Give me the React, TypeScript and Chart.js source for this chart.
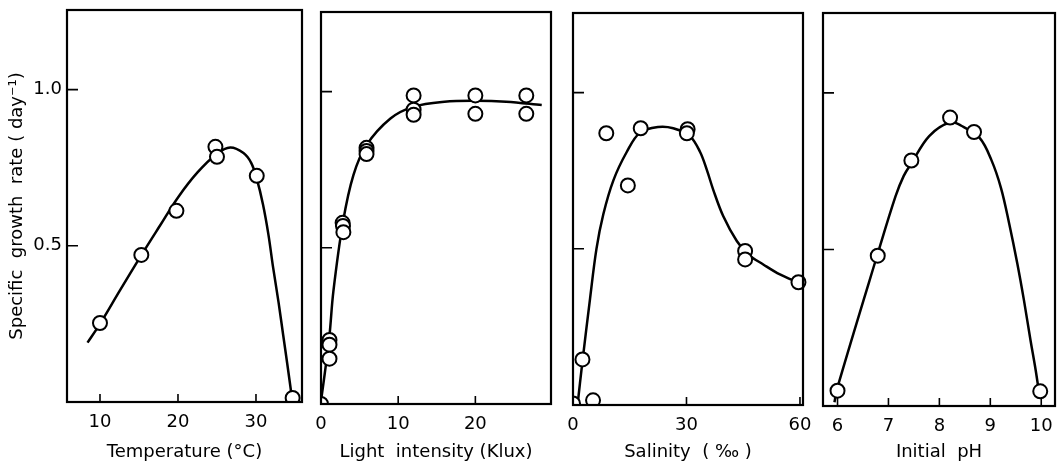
import React, { useEffect, useRef } from 'react';
import { Chart, registerables } from 'chart.js';

Chart.register(...registerables);

// ---------- data ----------
const yTicks = [0.5, 1.0];
const yTitle = 'Specific  growth  rate ( day⁻¹)';

// Temperature
const tempTicks = [10, 20, 30];
const tempX = [10, 15.3, 19.8, 24.8, 25, 30.1, 34.7];
const tempY = [0.253, 0.471, 0.612, 0.817, 0.785, 0.724, 0.013];
const tempFitX = [8.4, 10, 12.5, 15.3, 17.7, 20, 22.5, 25, 26.7, 28.4, 29.4, 30.1, 30.9, 31.6, 32.2, 32.9, 33.5, 34.0, 34.6];
const tempFitY = [0.19, 0.25, 0.355, 0.47, 0.565, 0.655, 0.735, 0.795, 0.815, 0.797, 0.765, 0.715, 0.632, 0.535, 0.43, 0.318, 0.212, 0.124, 0.015];

// Light intensity
const lightTicks = [0, 10, 20];
const lightX = [0, 1.1, 1.1, 1.1, 2.8, 2.85, 2.9, 5.9, 5.9, 5.9, 12, 12, 12, 20, 20, 26.6, 26.6];
const lightY = [0, 0.205, 0.19, 0.145, 0.58, 0.57, 0.55, 0.82, 0.81, 0.8, 0.988, 0.942, 0.926, 0.988, 0.929, 0.988, 0.929];
const lightFitX = [0, 0.5, 1.1, 1.6, 2.85, 4.2, 5.9, 9, 12, 16, 20, 24, 28.6];
const lightFitY = [0.01, 0.1, 0.22, 0.36, 0.583, 0.733, 0.829, 0.914, 0.952, 0.968, 0.971, 0.968, 0.957];

// Salinity
const salTicks = [0, 30, 60];
const salX = [0, 2.5, 5.3, 8.8, 14.5, 17.9, 30.3, 30.1, 45.5, 45.5, 59.6];
const salY = [0.005, 0.146, 0.015, 0.87, 0.703, 0.886, 0.883, 0.87, 0.493, 0.466, 0.393];
const salFitX = [1.2, 2.5, 4.5, 6.2, 8, 10.7, 14.2, 17.7, 22.5, 26.5, 30.9, 33.6, 35.4, 37.1, 39.7, 43.3, 46.3, 50.3, 54.7, 60.3];
const salFitY = [0, 0.14, 0.34, 0.5, 0.61, 0.72, 0.81, 0.872, 0.89, 0.886, 0.861, 0.81, 0.752, 0.688, 0.605, 0.525, 0.482, 0.45, 0.418, 0.388];

// Initial pH
const phTicks = [6, 7, 8, 9, 10];
const phX = [6, 6.79, 7.45, 8.21, 8.68, 9.98];
const phY = [0.049, 0.48, 0.784, 0.921, 0.875, 0.047];
const phFitX = [5.94, 6.0, 6.79, 7.14, 7.3, 7.45, 7.8, 8.21, 8.43, 8.79, 9.02, 9.21, 9.37, 9.53, 9.66, 9.79, 9.89, 9.97];
const phFitY = [0.012, 0.06, 0.487, 0.67, 0.735, 0.775, 0.862, 0.906, 0.895, 0.856, 0.786, 0.696, 0.583, 0.455, 0.338, 0.209, 0.115, 0.028];

// ---------- layout ----------
const FONT = "'DejaVu Sans', 'Liberation Sans', sans-serif";
const H = 467;
const Y_MAX = 1.255;

type Spec = {
  area: [number, number, number, number]; // left, top, right, bottom
  yAxisW: number;
  padRight: number;
  xMin: number;
  xMax: number;
  ticks: number[];
  title: string;
  px: number[];
  py: number[];
  fx: number[];
  fy: number[];
  showY: boolean;
};

const panels: Spec[] = [
  { area: [67, 10, 302, 402], yAxisW: 67, padRight: 12, xMin: 5.77, xMax: 35.9, ticks: tempTicks, title: 'Temperature (°C)', px: tempX, py: tempY, fx: tempFitX, fy: tempFitY, showY: true },
  { area: [321, 12, 551, 404], yAxisW: 14, padRight: 12, xMin: 0, xMax: 29.8, ticks: lightTicks, title: 'Light  intensity (Klux)', px: lightX, py: lightY, fx: lightFitX, fy: lightFitY, showY: false },
  { area: [573, 13, 803, 405], yAxisW: 14, padRight: 12, xMin: 0, xMax: 60.8, ticks: salTicks, title: 'Salinity  ( ‰ )', px: salX, py: salY, fx: salFitX, fy: salFitY, showY: false },
  { area: [823, 13, 1058, 406], yAxisW: 14, padRight: 6, xMin: 5.715, xMax: 10.27, ticks: phTicks, title: 'Initial  pH', px: phX, py: phY, fx: phFitX, fy: phFitY, showY: false },
];

const framePlugin = {
  id: 'frame',
  afterDatasetsDraw(chart: any) {
    const { ctx, chartArea: a, scales } = chart;
    ctx.save();
    ctx.strokeStyle = '#000';
    ctx.lineWidth = 1.6;
    ctx.beginPath();
    for (const t of scales.x.ticks) {
      const p = scales.x.getPixelForValue(t.value);
      ctx.moveTo(p, a.bottom);
      ctx.lineTo(p, a.bottom - 8);
    }
    for (const t of scales.y.ticks) {
      const p = scales.y.getPixelForValue(t.value);
      ctx.moveTo(a.left, p);
      ctx.lineTo(a.left + 11, p);
    }
    ctx.stroke();
    ctx.lineWidth = 2.2;
    ctx.strokeRect(a.left, a.top, a.right - a.left, a.bottom - a.top);
    ctx.restore();
  },
};

function Panel({ spec }: { spec: Spec }) {
  const ref = useRef<HTMLCanvasElement>(null);
  const [l, t, r, b] = spec.area;
  const canvasLeft = l - spec.yAxisW;
  const canvasW = r - canvasLeft + spec.padRight;

  useEffect(() => {
    const font = { family: FONT, size: 18 };
    const chart = new Chart(ref.current as HTMLCanvasElement, {
      type: 'scatter',
      data: {
        datasets: [
          {
            data: spec.px.map((x, i) => ({ x, y: spec.py[i] })),
            showLine: false,
            pointRadius: 7,
            pointHoverRadius: 7,
            pointBorderWidth: 2,
            pointBorderColor: '#000',
            pointBackgroundColor: '#fff',
            clip: { left: 0, top: 5, right: 5, bottom: 1 },
          } as any,
          {
            data: spec.fx.map((x, i) => ({ x, y: spec.fy[i] })),
            showLine: true,
            pointRadius: 0,
            borderColor: '#000',
            borderWidth: 2.5,
            tension: 0.35,
            clip: 0,
          } as any,
        ],
      },
      options: {
        responsive: false,
        animation: false,
        events: [],
        layout: { padding: { left: 0, top: t, right: spec.padRight, bottom: 0 } },
        plugins: { legend: { display: false }, tooltip: { enabled: false } },
        scales: {
          x: {
            type: 'linear',
            min: spec.xMin,
            max: spec.xMax,
            afterBuildTicks: (s: any) => {
              s.ticks = spec.ticks.map((v) => ({ value: v }));
            },
            afterFit: (s: any) => {
              s.height = H - b;
              s.paddingLeft = 0;
              s.paddingRight = 0;
            },
            grid: { display: false, drawTicks: false },
            border: { display: false },
            ticks: { padding: 10, font, color: '#000', maxRotation: 0, autoSkip: false, callback: (v: any) => String(v) },
            title: { display: true, text: spec.title, font, color: '#000', padding: { top: 0, bottom: 4 } },
          },
          y: {
            type: 'linear',
            min: 0,
            max: Y_MAX,
            afterBuildTicks: (s: any) => {
              s.ticks = yTicks.map((v) => ({ value: v }));
            },
            afterFit: (s: any) => {
              s.width = spec.yAxisW;
              s.paddingTop = 0;
              s.paddingBottom = 0;
            },
            grid: { display: false, drawTicks: false },
            border: { display: false },
            ticks: { display: spec.showY, padding: 5, font, color: '#000', callback: (v: any) => Number(v).toFixed(1) },
            title: { display: spec.showY, text: yTitle, font, color: '#000', padding: { top: 7, bottom: 0 } },
          },
        },
      } as any,
      plugins: [framePlugin],
    });
    return () => chart.destroy();
  }, []);

  return (
    <canvas
      ref={ref}
      width={canvasW}
      height={H}
      style={{ position: 'absolute', left: canvasLeft, top: 0, width: canvasW, height: H }}
    />
  );
}

export default function App() {
  return (
    <div style={{ position: 'absolute', left: 0, top: 0, width: 1064, height: H, overflow: 'hidden', background: '#fff' }}>
      {panels.map((p, i) => (
        <Panel key={i} spec={p} />
      ))}
    </div>
  );
}
